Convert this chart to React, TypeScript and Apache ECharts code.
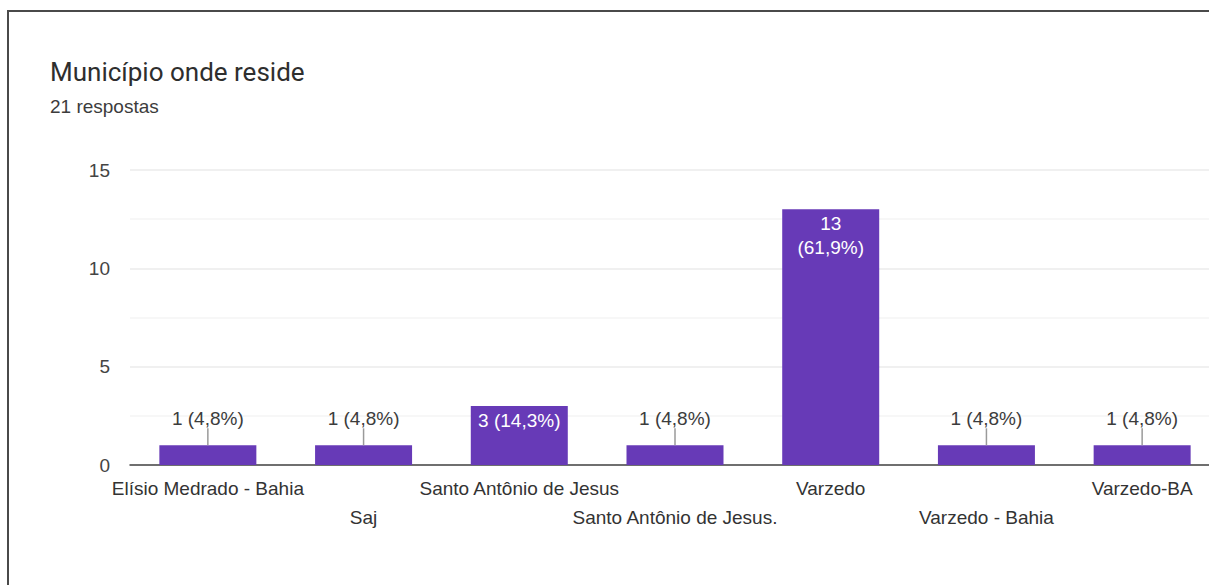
import React, { useEffect, useRef } from "react";
import * as echarts from "echarts";

const categories = [
  "Elísio Medrado - Bahia",
  "Saj",
  "Santo Antônio de Jesus",
  "Santo Antônio de Jesus.",
  "Varzedo",
  "Varzedo - Bahia",
  "Varzedo-BA",
];
const counts = [1, 1, 3, 1, 13, 1, 1];
const percents = ["4,8%", "4,8%", "14,3%", "4,8%", "61,9%", "4,8%", "4,8%"];
const yTicks = { min: 0, max: 15, interval: 5 };
const titleText = "Município onde reside";
const subText = "21 respostas";

const PURPLE = "#673ab7";
const FONT = "Liberation Sans, Arial, sans-serif";

export default function App() {
  const ref = useRef<HTMLDivElement>(null);
  useEffect(() => {
    if (!ref.current) return;
    const chart = echarts.init(ref.current, undefined, { renderer: "svg" });
    const barData = counts.map((v, i) => {
      const inside = v >= 3;
      const text = v >= 10 ? `${v}\n(${percents[i]})` : `${v} (${percents[i]})`;
      return {
        value: v,
        label: inside
          ? {
              show: true,
              position: "insideTop",
              distance: 2,
              color: "#ffffff",
              formatter: text,
              lineHeight: 24,
            }
          : {
              show: true,
              position: "top",
              distance: 17,
              color: "#3c3c3c",
              formatter: text,
            },
      };
    });
    const leaderData = counts.map((v, i) => [i, v, v >= 3 ? 0 : 1]);
    chart.setOption({
      animation: false,
      backgroundColor: "#ffffff",
      title: {
        text: titleText,
        subtext: subText,
        left: 45,
        top: 52,
        itemGap: 8,
        textStyle: {
          fontFamily: "Roboto",
          fontSize: 26,
          fontWeight: "normal",
          color: "#2e2e2e",
          lineHeight: 30,
        },
        subtextStyle: {
          fontFamily: FONT,
          fontSize: 19,
          color: "#3c3c3c",
          lineHeight: 22,
        },
      },
      grid: { left: 130, top: 170, right: 20, height: 295, containLabel: false },
      xAxis: {
        type: "category",
        data: categories,
        axisTick: { show: false },
        axisLine: { lineStyle: { color: "#444", width: 1.5 } },
        axisLabel: {
          interval: 0,
          margin: 9,
          lineHeight: 29,
          fontFamily: FONT,
          fontSize: 19,
          color: "#333",
          formatter: (v: string, i: number) => (i % 2 ? "\n" + v : v),
        },
      },
      yAxis: {
        type: "value",
        min: yTicks.min,
        max: yTicks.max,
        interval: yTicks.interval,
        axisLine: { show: false },
        axisTick: { show: false },
        axisLabel: {
          margin: 20,
          fontFamily: FONT,
          fontSize: 19,
          color: "#444",
        },
        splitLine: { lineStyle: { color: "#ebebeb", width: 1.5 } },
        minorTick: { show: false, splitNumber: 2 },
        minorSplitLine: { show: true, lineStyle: { color: "#f4f4f4", width: 1.5 } },
      },
      series: [
        {
          type: "bar",
          data: barData,
          barWidth: 97,
          itemStyle: { color: PURPLE },
          label: {
            fontFamily: FONT,
            fontSize: 19,
          },
          z: 2,
        },
        {
          type: "custom",
          data: leaderData,
          z: 3,
          renderItem: (params: any, api: any) => {
            if (!api.value(2)) return null;
            const p = api.coord([api.value(0), api.value(1)]);
            return {
              type: "line",
              shape: { x1: p[0], y1: p[1], x2: p[0], y2: p[1] - 17 },
              style: { stroke: "#9a9a9a", lineWidth: 1.5 },
            };
          },
        },
      ],
    });
    return () => chart.dispose();
  }, []);
  return (
    <div
      style={{
        position: "fixed",
        left: 0,
        top: 0,
        width: 1209,
        height: 585,
        overflow: "hidden",
        background: "#fff",
      }}
    >
      <div
        ref={ref}
        style={{ position: "absolute", left: 0, top: 0, width: 1240, height: 585 }}
      />
      <div
        style={{
          position: "absolute",
          left: 7,
          top: 10,
          width: 1240,
          height: 600,
          borderTop: "2px solid #4a4a4a",
          borderLeft: "2px solid #4a4a4a",
          pointerEvents: "none",
        }}
      />
    </div>
  );
}
